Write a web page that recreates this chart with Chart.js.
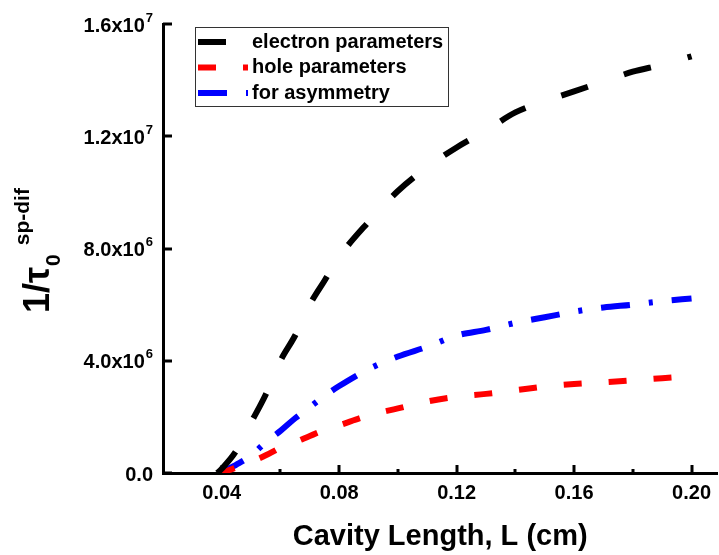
<!DOCTYPE html>
<html lang="en">
<head>
<meta charset="UTF-8">
<title>Spontaneous diffusion rate vs cavity length</title>
<script src="https://cdn.jsdelivr.net/npm/chart.js@4"></script>
<style>
  html, body { margin: 0; padding: 0; background: #fff; }
  .chart-container { position: relative; width: 719px; height: 555px; }
</style>
</head>
<body>
<div class="chart-container"><canvas id="rateChart"></canvas></div>
<script>
// cavity length (cm)
const lengthCm = [0.0385, 0.04, 0.045, 0.05, 0.055, 0.06, 0.065, 0.07, 0.075, 0.08,
                  0.09, 0.10, 0.11, 0.12, 0.13, 0.14, 0.15, 0.16, 0.17, 0.18, 0.19, 0.20];
// 1/tau0 (s^-1)
const electronRate  = [0, 0.15e6, 0.8e6, 1.8e6, 2.8e6, 4.0e6, 4.9e6, 6.0e6, 6.85e6, 7.7e6,
                       8.95e6, 10.05e6, 10.9e6, 11.6e6, 12.2e6, 12.85e6, 13.25e6, 13.6e6, 13.95e6, 14.3e6, 14.55e6, 14.85e6];
const holeRate      = [0, 0.02e6, 0.2e6, 0.4e6, 0.63e6, 0.9e6, 1.1e6, 1.32e6, 1.53e6, 1.7e6,
                       2.05e6, 2.3e6, 2.55e6, 2.72e6, 2.82e6, 2.95e6, 3.08e6, 3.17e6, 3.23e6, 3.3e6, 3.38e6, 3.45e6];
const asymmetryRate = [0, 0.03e6, 0.3e6, 0.62e6, 1.1e6, 1.5e6, 1.95e6, 2.35e6, 2.75e6, 3.1e6,
                       3.7e6, 4.15e6, 4.5e6, 4.9e6, 5.1e6, 5.35e6, 5.55e6, 5.75e6, 5.9e6, 6.0e6, 6.12e6, 6.22e6];

const seriesNames = ['electron parameters', 'hole parameters', 'for asymmetry'];

const xMajorTicks = [0.04, 0.08, 0.12, 0.16, 0.20];
const xMinorTicks = [0.06, 0.10, 0.14, 0.18];
const yTickValues = [0, 4e6, 8e6, 1.2e7, 1.6e7];
const yTickMantissa = ['0.0', '4.0', '8.0', '1.2', '1.6'];
const yTickExponent = ['', '6', '6', '7', '7'];

const FONT = 'Arial, "Liberation Sans", sans-serif';

const toPoints = ys => lengthCm.map((x, i) => ({ x, y: ys[i] }));

// inward tick marks on both axes
const axisTicks = {
  id: 'axisTicks',
  beforeDatasetsDraw(chart) {
    const { ctx, chartArea: a, scales: { x, y } } = chart;
    ctx.save();
    ctx.strokeStyle = '#000';
    ctx.lineWidth = 3;
    const seg = (x1, y1, x2, y2) => { ctx.beginPath(); ctx.moveTo(x1, y1); ctx.lineTo(x2, y2); ctx.stroke(); };
    xMajorTicks.forEach(v => { const px = Math.round(x.getPixelForValue(v)); seg(px, a.bottom, px, a.bottom - 8); });
    xMinorTicks.forEach(v => { const px = Math.round(x.getPixelForValue(v)); seg(px, a.bottom, px, a.bottom - 4); });
    yTickValues.forEach(v => { const py = Math.round(y.getPixelForValue(v)); seg(a.left, py, a.left + 9, py); });
    ctx.restore();
  }
};

// y tick labels with exponents, y title and the boxed legend
const annotations = {
  id: 'annotations',
  afterDraw(chart) {
    const { ctx, scales: { y } } = chart;
    ctx.save();
    ctx.fillStyle = '#000';

    // y tick labels, right aligned
    yTickValues.forEach((v, i) => {
      const py = y.getPixelForValue(v);
      const right = 153;
      ctx.textBaseline = 'middle';
      ctx.textAlign = 'right';
      if (yTickExponent[i]) {
        ctx.font = 'bold 13px ' + FONT;
        const supW = ctx.measureText(yTickExponent[i]).width;
        ctx.fillText(yTickExponent[i], right, py - 6);
        ctx.font = 'bold 20px ' + FONT;
        ctx.fillText(yTickMantissa[i] + 'x10', right - supW - 1, py + 2);
      } else {
        ctx.font = 'bold 20px ' + FONT;
        ctx.fillText(yTickMantissa[i], right, py + 2);
      }
    });

    // y title: 1/tau_0^{sp-dif}
    ctx.save();
    ctx.translate(49, 313);
    ctx.rotate(-Math.PI / 2);
    ctx.textAlign = 'left';
    ctx.textBaseline = 'alphabetic';
    ctx.font = 'bold 36px ' + FONT;
    ctx.fillText('1/τ', 0, 0);
    const w = ctx.measureText('1/τ').width;
    ctx.font = 'bold 21px ' + FONT;
    ctx.fillText('0', w + 1, 11);
    const w0 = ctx.measureText('0').width;
    ctx.fillText('sp-dif', w + w0 + 10, -20);
    ctx.restore();

    // legend
    const box = { x: 195.5, y: 27.5, w: 253, h: 79 };
    ctx.strokeStyle = '#333';
    ctx.lineWidth = 1;
    ctx.setLineDash([]);
    ctx.strokeRect(box.x, box.y, box.w, box.h);
    const rows = [42, 67.5, 93];
    chart.data.datasets.forEach((ds, i) => {
      ctx.save();
      ctx.strokeStyle = ds.borderColor;
      ctx.lineWidth = 6;
      ctx.setLineDash(ds.borderDash);
      ctx.beginPath();
      ctx.moveTo(198, rows[i]);
      ctx.lineTo(248, rows[i]);
      ctx.stroke();
      ctx.restore();
      ctx.fillStyle = '#000';
      ctx.font = 'bold 20px ' + FONT;
      ctx.textAlign = 'left';
      ctx.textBaseline = 'middle';
      ctx.fillText(ds.label, 252, rows[i]);
    });
    ctx.restore();
  }
};

const ctx = document.getElementById('rateChart').getContext('2d');
const rateChart = new Chart(ctx, {
  type: 'line',
  data: {
    datasets: [{
      label: seriesNames[0],
      data: toPoints(electronRate),
      borderColor: '#000000',
      borderWidth: 6,
      borderDash: [28, 38]
    }, {
      label: seriesNames[1],
      data: toPoints(holeRate),
      borderColor: '#ff0000',
      borderWidth: 6,
      borderDash: [18, 27]
    }, {
      label: seriesNames[2],
      data: toPoints(asymmetryRate),
      borderColor: '#0000ff',
      borderWidth: 6,
      borderDash: [29, 19, 4, 19]
    }]
  },
  options: {
    responsive: true,
    maintainAspectRatio: false,
    animation: false,
    cubicInterpolationMode: 'monotone',
    pointRadius: 0,
    layout: { padding: { top: 24, right: 0, left: 0, bottom: 0 } },
    plugins: { legend: { display: false }, tooltip: { enabled: false } },
    scales: {
      x: {
        type: 'linear',
        min: 0.02,
        max: 0.2088,
        grid: { display: false, drawTicks: false },
        border: { display: true, color: '#000', width: 3 },
        afterBuildTicks: s => { s.ticks = xMajorTicks.map(v => ({ value: v })); },
        afterFit: s => { s.height = 82; },
        ticks: {
          padding: 8,
          maxRotation: 0,
          color: '#000',
          font: { family: FONT, size: 20, weight: 'bold' },
          callback: v => v.toFixed(2)
        },
        title: {
          display: true,
          text: 'Cavity Length, L (cm)',
          color: '#000',
          font: { family: FONT, size: 29, weight: 'bold' },
          padding: { top: 0, bottom: 1 }
        }
      },
      y: {
        min: 0,
        max: 1.6e7,
        grid: { display: false, drawTicks: false },
        border: { display: true, color: '#000', width: 3 },
        ticks: { display: false },
        afterFit: s => { s.width = 163; }
      }
    }
  },
  plugins: [axisTicks, annotations]
});
</script>
</body>
</html>
